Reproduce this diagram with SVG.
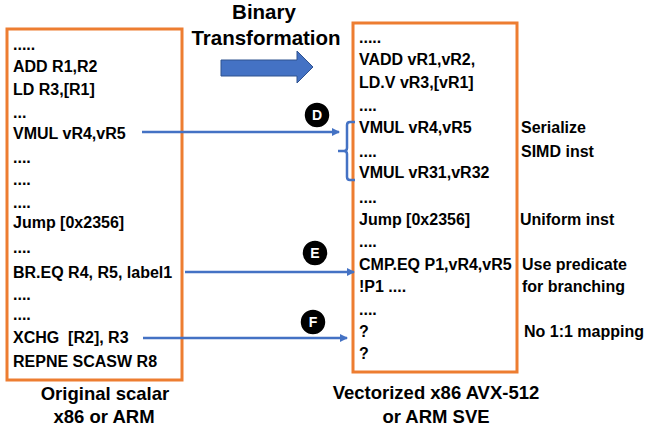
<svg xmlns="http://www.w3.org/2000/svg" width="649" height="433" viewBox="0 0 649 433">
<style>
text{font-family:"Liberation Sans",Arial,sans-serif;font-weight:bold;font-size:16px;fill:#000}
.box{fill:#fff;stroke:#ED7D31;stroke-width:3}
.conn{stroke:#4472C4;stroke-width:2.5;fill:none}
.badge{fill:#000;stroke:#fff;stroke-width:1.5}
.bl{fill:#fff;font-size:14px;text-anchor:middle}
.ttl{font-size:20.5px;text-anchor:middle}
.cap{font-size:18.5px;text-anchor:middle}
</style>
<defs>
<marker id="ah" markerWidth="8" markerHeight="8" refX="7" refY="4" orient="auto" markerUnits="userSpaceOnUse">
<path d="M0,0 L8,4 L0,8 Z" fill="#4472C4"/>
</marker>
</defs>
<g id="title">
<text class="ttl" x="264" y="19">Binary</text>
<text class="ttl" x="266" y="45">Transformation</text>
<path d="M221,60 H297 V51 L313,67 L297,83 V76 H221 Z" fill="#4472C4" stroke="#2F528F" stroke-width="1"/>
</g>
<g id="original">
<rect class="box" x="7" y="29" width="175" height="351"/>
<text x="13" y="50">.....</text>
<text x="13" y="72">ADD R1,R2</text>
<text x="13" y="95">LD R3,[R1]</text>
<text x="13" y="118">...</text>
<text x="13" y="139">VMUL vR4,vR5</text>
<text x="13" y="163">....</text>
<text x="13" y="185">....</text>
<text x="13" y="208">....</text>
<text x="13" y="228">Jump [0x2356]</text>
<text x="13" y="253">....</text>
<text x="13" y="278">BR.EQ R4, R5, label1</text>
<text x="13" y="300">....</text>
<text x="13" y="320">....</text>
<text x="13" y="343" xml:space="preserve">XCHG  [R2], R3</text>
<text x="13" y="367">REPNE SCASW R8</text>
<text class="cap" x="105" y="400">Original scalar</text>
<text class="cap" x="104" y="423">x86 or ARM</text>
</g>
<g id="vectorized">
<rect class="box" x="353" y="23" width="164" height="349"/>
<text x="359" y="43">.....</text>
<text x="359" y="65">VADD vR1,vR2,</text>
<text x="359" y="88">LD.V vR3,[vR1]</text>
<text x="359" y="111">....</text>
<text x="359" y="133">VMUL vR4,vR5</text>
<text x="359" y="157">....</text>
<text x="359" y="178">VMUL vR31,vR32</text>
<text x="359" y="203">....</text>
<text x="359" y="225">Jump [0x2356]</text>
<text x="359" y="247">....</text>
<text x="359" y="270">CMP.EQ P1,vR4,vR5</text>
<text x="359" y="292">!P1 ....</text>
<text x="359" y="315">....</text>
<text x="359" y="337">?</text>
<text x="359" y="359">?</text>
<text class="cap" x="436" y="399">Vectorized x86 AVX-512</text>
<text class="cap" x="436" y="423">or ARM SVE</text>
</g>
<g id="notes">
<text x="521" y="133">Serialize</text>
<text x="521" y="157">SIMD inst</text>
<text x="520" y="225">Uniform inst</text>
<text x="522" y="270">Use predicate</text>
<text x="522" y="292">for branching</text>
<text x="524" y="337">No 1:1 mapping</text>
</g>
<g id="connectors">
<path class="conn" d="M142,132 H339" marker-end="url(#ah)"/>
<path class="conn" d="M355,122 H350 Q347,122 347,125 V148 Q347,151 344,151 H338 M344,151 Q347,151 347,154 V177 Q347,180 350,180 H355"/>
<path class="conn" d="M185,272 H354" marker-end="url(#ah)"/>
<path class="conn" d="M143,338 H347" marker-end="url(#ah)"/>
</g>
<g id="badge-D">
<circle class="badge" cx="317" cy="115" r="13"/>
<text class="bl" x="317" y="120">D</text>
</g>
<g id="badge-E">
<circle class="badge" cx="315" cy="253" r="13"/>
<text class="bl" x="315" y="258">E</text>
</g>
<g id="badge-F">
<circle class="badge" cx="313" cy="322" r="13"/>
<text class="bl" x="313" y="327">F</text>
</g>
</svg>
